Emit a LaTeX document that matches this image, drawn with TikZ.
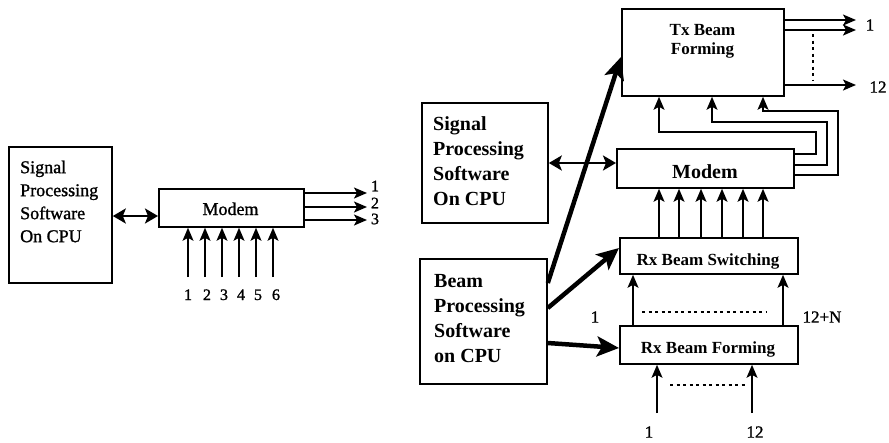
\documentclass[tikz,border=0pt]{standalone}
\usepackage{fontspec}
\setmainfont{Liberation Serif}
\newfontfamily\heavyserif[FakeBold=1.2]{Liberation Serif}
\usetikzlibrary{arrows.meta}
\begin{document}
\begin{tikzpicture}[x=1pt,y=-1pt,
  box/.style={draw, line width=1.8pt, inner sep=0pt, anchor=north west},
  txt/.style={inner sep=0pt, align=left},
  conn/.style={line width=1.5pt, -{Stealth[length=13pt,width=11pt,inset=3pt]}},
  outarrow/.style={line width=1.8pt, -{Stealth[length=13pt,width=11pt,inset=3pt]}},
  dbl/.style={line width=2.4pt, {Stealth[length=13pt,width=15pt,inset=3pt]}-{Stealth[length=13pt,width=15pt,inset=3pt]}},
  bigarrow/.style={line width=4.5pt, -{Stealth[length=22pt,width=20pt,inset=5pt]}},
  dotline/.style={line width=2.4pt, dash pattern=on 3pt off 3.5pt},
  lblL/.style={inner sep=0pt, font=\heavyserif\fontsize{16}{18}\selectfont},
  lblR/.style={inner sep=0pt, font=\heavyserif\fontsize{17}{19}\selectfont}
]
\useasboundingbox (0,0) rectangle (889,442);

% ---------------- left diagram ----------------
\node[box, minimum width=103pt, minimum height=136pt] (spL) at (8,146) {};
\node[txt, anchor=west, font=\heavyserif\fontsize{18}{23}\selectfont] (spLt) at (20,201.5) {Signal\\Processing\\Software\\On CPU};
\node[box, minimum width=145pt, minimum height=38pt] (mL) at (158,188) {};
\node[inner sep=0pt, anchor=base, font=\heavyserif\fontsize{18}{20}\selectfont] (mLt) at (230.5,215) {Modem};

\coordinate (daL) at (0,216);
\draw[dbl] (spL.east |- daL) -- (mL.west |- daL);

\foreach \i/\x/\lx in {1/188/188,2/205/207,3/222/224,4/239/241,5/256/258,6/273/276}{
  \coordinate (li\i) at (\x,277);
  \draw[conn] (li\i) -- (li\i |- mL.south);
  \node[lblL, anchor=base] (lil\i) at (\lx,300) {\i};
}
\foreach \i/\y/\ly in {1/193/186,2/207/203,3/220/219}{
  \coordinate (lo\i) at (367,\y);
  \draw[outarrow] (lo\i -| mL.east) -- (lo\i);
  \node[lblL] (lol\i) at (375,\ly) {\i};
}

% ---------------- right diagram ----------------
\node[box, minimum width=126pt, minimum height=120pt] (spR) at (421,102) {};
\node[txt, anchor=west, font=\bfseries\fontsize{20}{25}\selectfont] (spRt) at (433,161) {Signal\\Processing\\Software\\On CPU};
\node[box, minimum width=127pt, minimum height=125pt] (bp) at (419,258) {};
\node[txt, anchor=west, font=\bfseries\fontsize{20}{24.7}\selectfont] (bpt) at (434,318.5) {Beam\\Processing\\Software\\on CPU};

\node[box, minimum width=162pt, minimum height=87pt] (tx) at (621,8) {};
\node[inner sep=0pt, align=center, font=\bfseries\fontsize{17}{19}\selectfont] (txt1) at (702.5,41.5) {Tx Beam\\Forming};
\node[box, minimum width=177pt, minimum height=39pt] (mR) at (616,148) {};
\node[inner sep=0pt, anchor=base, font=\bfseries\fontsize{20}{22}\selectfont] (mRt) at (705,178) {Modem};
\node[box, minimum width=178pt, minimum height=36pt] (rxs) at (619,237) {};
\node[inner sep=0pt, anchor=base, font=\bfseries\fontsize{17}{19}\selectfont] (rxst) at (708,265) {Rx Beam Switching};
\node[box, minimum width=178pt, minimum height=38pt] (rxf) at (619,325) {};
\node[inner sep=0pt, anchor=base, font=\bfseries\fontsize{17}{19}\selectfont] (rxft) at (708,353) {Rx Beam Forming};

% signal processing <-> modem
\coordinate (daR) at (0,163);
\draw[dbl] (spR.east |- daR) -- (mR.west |- daR);

% beam processing thick arrows
\coordinate (b1) at (0,283); \coordinate (e1) at (0,57);
\coordinate (b2) at (0,308); \coordinate (e2) at (0,248);
\coordinate (b3) at (0,343); \coordinate (e3) at (0,348);
\draw[bigarrow] (bp.east |- b1) -- (tx.west |- e1);
\draw[bigarrow] (bp.east |- b2) -- (rxs.west |- e2);
\draw[bigarrow] (bp.east |- b3) -- (rxf.west |- e3);

% Tx outputs
\coordinate (to1) at (856,20);
\coordinate (to2) at (856,30);
\coordinate (to3) at (856,85);
\draw[outarrow] (to1 -| tx.east) -- (to1);
\draw[outarrow] (to2 -| tx.east) -- (to2);
\draw[outarrow] (to3 -| tx.east) -- (to3);
\coordinate (td1) at (813,34); \coordinate (td2) at (813,81);
\draw[dotline] (td1) -- (td2);
\node[lblR] (tl1) at (870,25) {1};
\node[lblR] (tl12) at (878,87) {12};

% modem -> Tx feedback
\coordinate (f1) at (659,154);
\coordinate (f2) at (712,165);
\coordinate (f3) at (763,175);
\draw[conn] (mR.east |- f1) -- (816,154) -- (816,132) -- (659,132) -- (f1 |- tx.south);
\draw[conn] (mR.east |- f2) -- (827,165) -- (827,122) -- (712,122) -- (f2 |- tx.south);
\draw[conn] (mR.east |- f3) -- (838,175) -- (838,111) -- (763,111) -- (f3 |- tx.south);

% Rx switching -> modem
\foreach \i/\x in {1/659,2/679,3/701,4/722,5/743,6/763}{
  \coordinate (mi\i) at (\x,0);
  \draw[conn] (mi\i |- rxs.north) -- (mi\i |- mR.south);
}

% Rx forming -> Rx switching
\coordinate (r1) at (633,0);
\coordinate (r2) at (783,0);
\draw[conn] (r1 |- rxf.north) -- (r1 |- rxs.south);
\draw[conn] (r2 |- rxf.north) -- (r2 |- rxs.south);
\coordinate (rd1) at (642,312); \coordinate (rd2) at (767,312);
\draw[dotline] (rd1) -- (rd2);
\node[lblR] (rl1) at (595,317) {1};
\node[lblR] (rl2) at (822,317) {12+N};

% inputs to Rx forming
\coordinate (ri1) at (657,413);
\coordinate (ri2) at (752,413);
\draw[conn] (ri1) -- (ri1 |- rxf.south);
\draw[conn] (ri2) -- (ri2 |- rxf.south);
\coordinate (bd1) at (670,385); \coordinate (bd2) at (746,385);
\draw[dotline] (bd1) -- (bd2);
\node[lblR] (bl1) at (649,432) {1};
\node[lblR] (bl2) at (755,432) {12};
\end{tikzpicture}
\end{document}
